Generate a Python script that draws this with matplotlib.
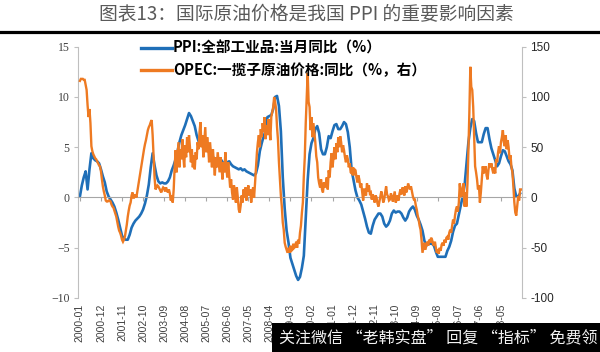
import numpy as np
import matplotlib
matplotlib.use("Agg")
import matplotlib.pyplot as plt
from matplotlib.lines import Line2D
from matplotlib.patches import Rectangle

plt.rcParams['font.family'] = ['Noto Sans CJK SC', 'DejaVu Sans']

title = "图表13：国际原油价格是我国 PPI 的重要影响因素"
ppi_label = "PPI:全部工业品:当月同比（%）"
opec_label = "OPEC:一揽子原油价格:同比（%，右）"
watermark = "关注微信 “老韩实盘” 回复 “指标” 免费领"

# PPI YoY, monthly, 2000-01 .. 2019-03 (left axis, %)
ppi_2000_2004 = [
    0.1, 1.2, 2.0, 2.6, 0.8, 2.8, 4.4, 3.9, 3.7, 3.6, 3.4, 2.8,
    2.1, 1.5, 0.6, 0.1, -0.2, -0.5, -0.9, -1.5, -2.2, -3.0, -3.8, -4.1,
    -4.2, -4.2, -3.7, -3.0, -2.6, -2.3, -2.1, -1.9, -1.6, -1.2, -0.6, 0.2,
    1.3, 3.0, 4.4, 3.2, 2.2, 1.6, 1.4, 1.5, 1.4, 1.4, 1.6, 2.0,
    2.7, 3.2, 3.8, 4.6, 5.5, 6.2, 6.7, 7.2, 7.8, 8.4, 8.1, 7.6,
]
ppi_2005_2009 = [
    7.1, 6.2, 5.6, 5.7, 5.8, 5.7, 5.3, 5.0, 4.6, 4.2, 3.9, 3.6,
    3.5, 3.6, 3.7, 3.4, 3.2, 3.5, 3.6, 3.3, 3.1, 3.0, 2.9, 2.8,
    2.9, 2.7, 2.8, 2.6, 2.5, 2.4, 2.3, 2.2, 2.4, 3.2, 4.6, 5.4,
    6.1, 6.6, 8.0, 8.1, 8.2, 8.8, 10.0, 10.1, 9.1, 6.6, 2.0, -1.1,
    -3.3, -4.5, -6.0, -6.6, -7.2, -7.8, -8.2, -7.9, -7.0, -5.8, -2.1, 1.7,
]
ppi_2010_2014 = [
    4.3, 5.4, 5.9, 6.8, 7.1, 6.4, 4.8, 4.3, 4.3, 5.0, 6.1, 5.9,
    6.6, 7.2, 7.3, 6.8, 6.8, 7.1, 7.5, 7.3, 6.5, 5.0, 2.7, 1.7,
    0.7, 0.0, -0.3, -0.7, -1.4, -2.1, -2.9, -3.5, -3.6, -2.8, -2.2, -1.9,
    -1.6, -1.6, -1.9, -2.6, -2.9, -2.7, -2.3, -1.6, -1.3, -1.5, -1.4, -1.4,
    -1.6, -2.0, -2.3, -2.0, -1.4, -1.1, -0.9, -1.2, -1.8, -2.2, -2.7, -3.3,
]
ppi_2015_2019 = [
    -4.3, -4.8, -4.6, -4.6, -4.6, -4.8, -5.4, -5.9, -5.9, -5.9, -5.9, -5.9,
    -5.3, -4.9, -4.3, -3.4, -2.8, -2.6, -1.7, -0.8, 0.1, 1.2, 3.3, 5.5,
    6.9, 7.8, 7.6, 6.4, 5.5, 5.5, 5.5, 6.3, 6.9, 6.9, 5.8, 4.9,
    4.3, 3.7, 3.1, 3.4, 4.1, 4.7, 4.6, 4.1, 3.6, 3.3, 2.7, 0.9,
    0.1, 0.1, 0.4,
]
ppi = ppi_2000_2004 + ppi_2005_2009 + ppi_2010_2014 + ppi_2015_2019

# OPEC basket price YoY, twice a month, 2000-01 .. 2019-03 (right axis, %)
opec_2000_2004 = [
    116, 118, 118, 118, 117, 117, 112, 107, 92, 80, 88, 74, 51, 46, 43, 41, 39, 38, 36, 34, 32, 31, 26, 18,
    11, 6, 2, -3, -4, -4, -3, -3, -4, -7, -9, -10, -13, -16, -19, -24, -29, -33, -35, -38, -42, -44, -42, -39,
    -33, -27, -19, -13, -8, -5, 2, 5, -1, 1, 3, 0, 6, 12, 18, 24, 30, 36, 42, 48, 53, 57, 62, 67,
    70, 72, 75, 77, 62, 41, 20, 8, 10, 12, 11, 9, 7, 5, 8, 10, 9, 6, 10, 7, 5, 8, 4, -3,
    2, -5, 8, 30, 47, 25, 40, 55, 30, 48, 38, 58, 42, 30, 52, 40, 60, 45, 62, 50, 35, 48, 30, 42,
]
opec_2005_2009 = [
    28, 45, 38, 55, 48, 65, 75, 50, 62, 40, 55, 70, 45, 60, 50, 35, 55, 42, 30, 48, 35, 22, 40, 30,
    45, 35, 25, 40, 30, 18, 35, 25, 45, 30, 20, 35, 22, 10, 18, 5, -2, 12, 5, -5, 10, 0, -12, -15,
    -8, 2, -5, 8, 0, 10, -3, 6, 12, 2, 8, -5, 5, 10, 0, 14, 30, 45, 55, 62, 50, 68, 60, 74,
    65, 80, 58, 72, 62, 78, 70, 57, 80, 85, 90, 100, 95, 88, 70, 57, 35, 18, 2, -9, -25, -32, -45, -49,
    -52, -55, -50, -55, -48, -53, -52, -46, -50, -49, -44, -50, -42, -46, -35, -28, -15, -5, 21, 40, 74, 100, 124, 95,
]
opec_2010_2014 = [
    90, 67, 80, 60, 74, 65, 55, 41, 35, 20, 14, 10, 18, 8, 5, 15, 10, 14, 20, 8, 27, 20, 35, 44,
    30, 40, 50, 38, 54, 45, 60, 50, 61, 55, 45, 52, 47, 40, 35, 42, 38, 30, 34, 25, 24, 30, 22, 28,
    27, 20, 15, 22, 18, 10, 14, 5, -3, 8, 8, 2, 14, 6, 12, 4, 5, -2, 3, 0, -5, 2, 0, -6,
    -9, -4, 1, 6, 1, -5, -2, 5, 11, 3, 1, -3, -2, 4, 1, -4, 1, 6, -5, -2, 2, -3, 4, 8,
    3, 10, 8, 2, 11, 5, 8, 14, 11, 8, 11, 6, 1, -2, -2, -8, -12, -18, -22, -28, -32, -42, -55, -50,
]
opec_2015_2019 = [
    -45, -52, -48, -44, -48, -42, -45, -40, -42, -46, -48, -44, -50, -55, -52, -56, -50, -53, -47, -45, -48, -42, -45, -40,
    -39, -42, -35, -32, -35, -28, -22, -26, -18, -12, -9, -14, -5, 14, 2, 1, 10, 14, -9, 5, -9, 14, 47, 85,
    130, 110, 107, 90, 60, 31, 25, 18, 8, 12, -5, 5, 18, 31, 24, 28, 31, 22, 18, 28, 34, 30, 34, 28,
    24, 30, 24, 38, 35, 45, 51, 44, 55, 60, 67, 55, 51, 62, 48, 57, 50, 38, 42, 30, 25, 11, -5, -15,
    -18, -9, 1, -3, 8, 8,
]
opec = opec_2000_2004 + opec_2005_2009 + opec_2010_2014 + opec_2015_2019

tick_labels = ["2000-01", "2000-12", "2001-11", "2002-10", "2003-09", "2004-08", "2005-07",
               "2006-06", "2007-05", "2008-04", "2009-03", "2010-02", "2011-01", "2011-12",
               "2012-11", "2013-10", "2014-09", "2015-08", "2016-07", "2017-06", "2018-05"]
left_ticks = [-10, -5, 0, 5, 10, 15]
right_ticks = [-100, -50, 0, 50, 100, 150]

# positions (month index from 2000-01)
ppi_x = np.arange(len(ppi))
opec_x = np.arange(len(opec)) / 2.0
tick_pos = [(int(s[:4]) - 2000) * 12 + int(s[5:]) - 1 for s in tick_labels]

blue = "#1F6FB8"
orange = "#EE7A22"
axis_gray = "#BFBFBF"

fig = plt.figure(figsize=(6.0, 3.52), dpi=100)
ax = fig.add_axes([78 / 600, 1 - 298 / 352, 444 / 600, (298 - 46.7) / 352])
ax2 = ax.twinx()

l1, = ax.plot(ppi_x, ppi, color=blue, lw=1.9, solid_joinstyle="round")
l2, = ax2.plot(opec_x, opec, color=orange, lw=1.7, solid_joinstyle="miter")

ax.set_xlim(-1, len(ppi))
ax.set_ylim(-10, 15)
ax2.set_ylim(-100, 150)
ax.set_yticks(left_ticks)
ax2.set_yticks(right_ticks)

for a in (ax, ax2):
    a.spines["top"].set_visible(False)
    a.patch.set_visible(False)
ax.spines["right"].set_visible(False)
ax2.spines["left"].set_visible(False)
ax2.spines["bottom"].set_visible(False)
ax.spines["left"].set_color(axis_gray)
ax2.spines["right"].set_color(axis_gray)
ax.spines["bottom"].set_position(("data", 0))
ax.spines["bottom"].set_color("#A6A6A6")

ax.set_xticks(tick_pos)
ax.tick_params(axis="x", direction="out", length=3, color="#A6A6A6", labelbottom=False)
ax.tick_params(axis="y", direction="out", length=3, color=axis_gray, labelsize=8.5,
               labelcolor="#404040", pad=3)
ax2.tick_params(axis="y", direction="out", length=3, color=axis_gray, labelsize=8.5,
                labelcolor="#262626", pad=3)
for t in ax.get_yticklabels():
    t.set_fontfamily("Liberation Serif")
ax2.set_yticklabels([str(v) for v in right_ticks], fontfamily="Liberation Sans")

sec = ax.secondary_xaxis(0)
sec.set_xticks(tick_pos)
sec.set_xticklabels(tick_labels, rotation=90, fontsize=7.5, color="#404040",
                    fontfamily="Liberation Sans")
sec.tick_params(length=0, pad=4)
sec.spines["bottom"].set_visible(False)

leg = fig.legend([l1, l2], [ppi_label, opec_label], loc="upper left",
                 bbox_to_anchor=(141 / 600, 1 - 40 / 352), frameon=False,
                 handlelength=2.1, handletextpad=0.1, labelspacing=0.4,
                 borderpad=0, borderaxespad=0,
                 prop={"family": ["Noto Sans CJK SC", "DejaVu Sans"], "size": 10.5, "weight": "bold"})
for h in leg.legend_handles:
    h.set_linewidth(2.4)

fig.text(306 / 600, 1 - 15 / 352, title, ha="center", va="center", fontsize=13.5,
         color="#5a5a5a")
fig.add_artist(Line2D([0, 1], [1 - 32 / 352, 1 - 32 / 352], transform=fig.transFigure,
                      color="black", lw=2.3))

fig.add_artist(Rectangle((272 / 600, 0), 328 / 600, 29 / 352, transform=fig.transFigure,
                         facecolor="black", edgecolor="none", zorder=10))
fig.text(279 / 600, 14 / 352, watermark, ha="left", va="center", fontsize=11.5,
         color="#f2f2f2", zorder=11)

fig.savefig("out.png", dpi=100)
